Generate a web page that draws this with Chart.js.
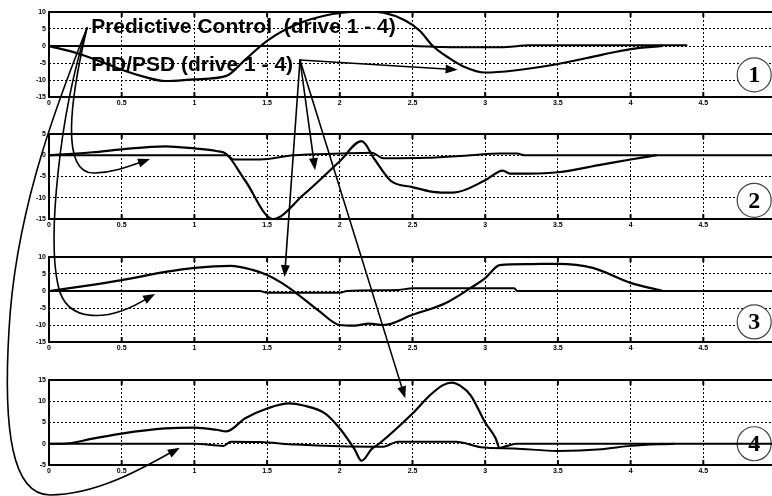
<!DOCTYPE html>
<html lang="en">
<head>
<meta charset="UTF-8">
<title>Drive 1 - 4: Predictive Control vs PID/PSD</title>
<script src="https://cdn.jsdelivr.net/npm/chart.js@4.4.0/dist/chart.umd.min.js"></script>
<style>
  html, body { margin: 0; padding: 0; overflow: hidden; background: #fff; width: 772px; height: 496px; }
  .plot { position: absolute; left: 0; }
  #overlay { position: absolute; left: 0; top: 0; pointer-events: none; }
</style>
</head>
<body>
<canvas class="plot" id="c1" width="778" height="112" style="top:0px"></canvas>
<canvas class="plot" id="c2" width="778" height="112" style="top:122px"></canvas>
<canvas class="plot" id="c3" width="778" height="112" style="top:245px"></canvas>
<canvas class="plot" id="c4" width="778" height="112" style="top:368px"></canvas>
<canvas id="overlay" width="772" height="496"></canvas>
<script>
// x axis (time) ticks shared by all four plots
const xTicks = [0, 0.5, 1, 1.5, 2, 2.5, 3, 3.5, 4, 4.5, 5];

// drive 1
const y1Ticks = [-15, -10, -5, 0, 5, 10];
const t1Pid = [0, 0.2, 0.4, 0.5, 0.65, 0.8, 1.0, 1.22, 1.35, 1.5, 1.7, 1.95, 2.15, 2.3, 2.45, 2.55, 2.64, 2.75, 2.85, 3.0, 3.2, 3.5, 3.8, 4.0, 4.22];
const y1Pid = [0, -2.2, -5.3, -7, -9, -10.3, -9.8, -8.8, -4, 1.5, 6.3, 9.4, 10.2, 9.8, 7.5, 4.5, 0, -3.5, -6, -7.8, -7.2, -5.3, -2.6, -0.9, 0];
const t1Pred = [0, 2.5, 2.7, 3.0, 3.15, 3.3, 4.39];
const y1Pred = [0, 0, -0.3, -0.4, -0.3, 0.2, 0.2];

// drive 2
const y2Ticks = [-15, -10, -5, 0, 5];
const t2Pid = [0, 0.3, 0.5, 0.8, 1.0, 1.15, 1.22, 1.35, 1.54, 1.75, 2.0, 2.15, 2.24, 2.35, 2.5, 2.64, 2.78, 3.0, 3.12, 3.17, 3.3, 3.5, 3.8, 4.0, 4.18];
const y2Pid = [0, 0.7, 1.4, 2.1, 1.6, 1.0, 0.3, -6, -15, -9.3, -1.4, 3.3, -1, -6, -7.5, -8.6, -8.8, -5.9, -3.6, -4.3, -4.3, -4, -2.2, -1, 0];
const t2Pred = [0, 1.0, 1.22, 1.27, 1.45, 1.68, 2.0, 2.22, 2.3, 2.6, 2.9, 3.1, 3.22, 3.27, 5];
const y2Pred = [0, 0, 0, -1, -1, 0, 0.4, 0.6, -0.7, -0.6, 0, 0.4, 0.4, 0, 0];

// drive 3
const y3Ticks = [-15, -10, -5, 0, 5, 10];
const t3Pid = [0, 0.25, 0.5, 0.8, 1.0, 1.25, 1.4, 1.5, 1.6, 1.7, 1.85, 2.0, 2.1, 2.2, 2.3, 2.5, 2.73, 2.9, 3.0, 3.1, 3.3, 3.5, 3.74, 4.0, 4.22];
const y3Pid = [0, 1.5, 3.2, 5.6, 6.8, 7.4, 6.2, 4.7, 2.4, -0.6, -5.6, -10, -10.2, -9.6, -10, -7, -3.5, 0.9, 3.8, 7.6, 7.9, 8, 6.8, 2.4, 0];
const t3Pred = [0, 1.45, 1.5, 2.0, 2.05, 2.4, 2.5, 3.2, 3.22, 5];
const y3Pred = [0, 0, -0.5, -0.5, 0, 0.3, 0.8, 0.8, 0, 0];

// drive 4
const y4Ticks = [-5, 0, 5, 10, 15];
const t4Pid = [0, 0.1, 0.3, 0.5, 0.8, 1.0, 1.15, 1.22, 1.35, 1.5, 1.65, 1.75, 1.9, 2.0, 2.1, 2.15, 2.22, 2.27, 2.5, 2.62, 2.71, 2.77, 2.83, 2.9, 3.0, 3.07, 3.1, 3.15, 3.22, 5];
const y4Pid = [0, 0, 1.2, 2.4, 3.6, 3.8, 3.3, 2.9, 6, 8.3, 9.5, 9, 7.1, 3.6, -1.2, -4, -1.2, 0, 7.1, 11.4, 13.8, 14.4, 13.6, 11.4, 5, 1.4, -1, -0.5, 0, 0];
const t4Pred = [0, 1.0, 1.2, 1.25, 1.45, 1.7, 2.0, 2.3, 2.4, 2.5, 2.8, 2.97, 3.2, 3.5, 3.8, 4.0, 4.3];
const y4Pred = [0, 0, -0.5, 0.5, 0.4, -0.2, -0.6, -0.7, 0.5, 0.5, 0.5, -0.8, -1.1, -1.7, -1.3, -0.5, 0];

// circled drive numbers (position in each plot's own units)
const badgeText = ['1', '2', '3', '4'];
const badgeX = 4.85;
const badgeY = [-8.5, -10.6, -9.1, 0];

const pts = (xs, ys) => xs.map((x, i) => ({ x: x, y: ys[i] }));

const framePlugin = {
  id: 'frame',
  afterDraw(chart) {
    const { ctx, chartArea: a } = chart;
    ctx.save();
    ctx.strokeStyle = '#000';
    ctx.lineWidth = 2;
    ctx.beginPath();
    ctx.moveTo(a.right + 4, a.top); ctx.lineTo(a.left, a.top);
    ctx.lineTo(a.left, a.bottom); ctx.lineTo(a.right + 4, a.bottom);
    ctx.stroke();
    // small inner tick marks
    xTicks.forEach(v => {
      if (v === 0) return;
      const x = chart.scales.x.getPixelForValue(v);
      ctx.beginPath();
      ctx.moveTo(x, a.top); ctx.lineTo(x, a.top + 5);
      ctx.moveTo(x, a.bottom); ctx.lineTo(x, a.bottom - 5);
      ctx.stroke();
    });
    ctx.restore();
  }
};

function makeChart(id, yTicks, pid, pred) {
  const yMin = yTicks[0], yMax = yTicks[yTicks.length - 1];
  const tickFont = { family: 'Arial', size: 7, weight: 'bold' };
  return new Chart(document.getElementById(id), {
    type: 'line',
    data: {
      datasets: [
        { label: 'PID/PSD', data: pid, borderColor: '#000', borderWidth: 2.2, pointRadius: 0,
          tension: 0.3, cubicInterpolationMode: 'monotone' },
        { label: 'Predictive Control', data: pred, borderColor: '#000', borderWidth: 2, pointRadius: 0,
          tension: 0.3, cubicInterpolationMode: 'monotone' }
      ]
    },
    options: {
      responsive: false,
      animation: false,
      devicePixelRatio: 1,
      layout: { padding: { top: 12, right: 2, left: 0, bottom: 0 } },
      plugins: { legend: { display: false }, tooltip: { enabled: false } },
      scales: {
        x: {
          type: 'linear', min: 0, max: 5,
          afterBuildTicks: axis => { axis.ticks = xTicks.map(v => ({ value: v })); },
          afterFit: axis => { axis.height = 15; },
          ticks: { font: tickFont, color: '#000', padding: 2, maxRotation: 0, autoSkip: false,
                   callback: v => (v === 5 ? '' : String(v)) },
          grid: { drawTicks: false, lineWidth: 1,
                  color: c => (c.tick && (c.tick.value === 0 || c.tick.value === 5)) ? 'rgba(0,0,0,0)' : '#000' },
          border: { display: false, dash: [2, 2] }
        },
        y: {
          min: yMin, max: yMax,
          afterBuildTicks: axis => { axis.ticks = yTicks.map(v => ({ value: v })); },
          afterFit: axis => { axis.width = 49; },
          ticks: { font: tickFont, color: '#000', padding: 3, callback: v => String(v) },
          grid: { drawTicks: false, lineWidth: 1,
                  color: c => (c.tick && (c.tick.value === yMin || c.tick.value === yMax)) ? 'rgba(0,0,0,0)' : '#000' },
          border: { display: false, dash: [2, 2] }
        }
      }
    },
    plugins: [framePlugin]
  });
}

const charts = [
  makeChart('c1', y1Ticks, pts(t1Pid, y1Pid), pts(t1Pred, y1Pred)),
  makeChart('c2', y2Ticks, pts(t2Pid, y2Pid), pts(t2Pred, y2Pred)),
  makeChart('c3', y3Ticks, pts(t3Pid, y3Pid), pts(t3Pred, y3Pred)),
  makeChart('c4', y4Ticks, pts(t4Pid, y4Pid), pts(t4Pred, y4Pred))
];
const tops = [0, 122, 245, 368];

// page position of a value in plot i
function at(i, x, y) {
  const c = charts[i];
  return [c.scales.x.getPixelForValue(x), tops[i] + c.scales.y.getPixelForValue(y)];
}

// annotation layer: labels, arrows, circled numbers
const ov = document.getElementById('overlay').getContext('2d');

function arrowHead(from, tip) {
  const ang = Math.atan2(tip[1] - from[1], tip[0] - from[0]);
  const len = 12, w = 4.5;
  ov.beginPath();
  ov.moveTo(tip[0], tip[1]);
  ov.lineTo(tip[0] - len * Math.cos(ang) + w * Math.sin(ang), tip[1] - len * Math.sin(ang) - w * Math.cos(ang));
  ov.lineTo(tip[0] - len * Math.cos(ang) - w * Math.sin(ang), tip[1] - len * Math.sin(ang) + w * Math.cos(ang));
  ov.closePath();
  ov.fill();
}

ov.strokeStyle = '#000';
ov.fillStyle = '#000';
ov.lineWidth = 1.6;
ov.lineCap = 'round';

// Predictive Control arrows -> plots 2, 3, 4
const p2 = at(1, 0.695, -0.9);
ov.beginPath();
ov.moveTo(87, 28);
ov.bezierCurveTo(70, 100, 60, 175, 95, 173);
ov.bezierCurveTo(115, 172, 130, 166, p2[0] - 6, p2[1] + 2);
ov.stroke();
arrowHead([130, 166], p2);

const p3 = at(2, 0.73, -0.9);
ov.beginPath();
ov.moveTo(87, 28);
ov.bezierCurveTo(58, 120, 48, 240, 58, 285);
ov.bezierCurveTo(66, 325, 110, 322, p3[0] - 6, p3[1] + 3);
ov.stroke();
arrowHead([120, 313], p3);

const p4 = at(3, 0.9, -0.95);
ov.beginPath();
ov.moveTo(87, 28);
ov.bezierCurveTo(50, 120, 15, 220, 9, 330);
ov.bezierCurveTo(3, 430, 12, 495, 50, 495);
ov.bezierCurveTo(95, 495, 140, 470, p4[0] - 6, p4[1] + 3);
ov.stroke();
arrowHead([140, 470], p4);

// PID/PSD arrows -> plots 1, 2, 3, 4
const pidStart = [300, 60];
[at(0, 2.81, -7), at(1, 1.83, -3.5), at(2, 1.62, 4.1), at(3, 2.45, 10.7)].forEach(tip => {
  const ang = Math.atan2(tip[1] - pidStart[1], tip[0] - pidStart[0]);
  ov.beginPath();
  ov.moveTo(pidStart[0], pidStart[1]);
  ov.lineTo(tip[0] - 8 * Math.cos(ang), tip[1] - 8 * Math.sin(ang));
  ov.stroke();
  arrowHead(pidStart, tip);
});

// labels
ov.font = 'bold 21px Arial, "Liberation Sans", sans-serif';
ov.textBaseline = 'middle';
ov.textAlign = 'left';
const l1 = at(0, 0.29, 5.4);
const l2 = at(0, 0.29, -5.6);
ov.fillText('Predictive Control  (drive 1 - 4)', l1[0], l1[1]);
ov.fillText('PID/PSD (drive 1 - 4)', l2[0], l2[1]);

// circled drive numbers
badgeText.forEach((txt, i) => {
  const p = at(i, badgeX, badgeY[i]);
  ov.save();
  ov.fillStyle = '#fff';
  ov.strokeStyle = '#444';
  ov.lineWidth = 1.2;
  ov.beginPath();
  ov.arc(p[0], p[1], 17, 0, Math.PI * 2);
  ov.fill();
  ov.stroke();
  if (i === 3) {
    ov.strokeStyle = '#000';
    ov.lineWidth = 2;
    ov.beginPath();
    ov.moveTo(p[0] - 17, p[1]); ov.lineTo(p[0] + 17, p[1]);
    ov.stroke();
  }
  ov.fillStyle = '#000';
  ov.font = 'bold 24px "Liberation Serif", serif';
  ov.textAlign = 'center';
  ov.textBaseline = 'middle';
  ov.fillText(txt, p[0], p[1] + 1);
  ov.restore();
});
</script>
</body>
</html>
